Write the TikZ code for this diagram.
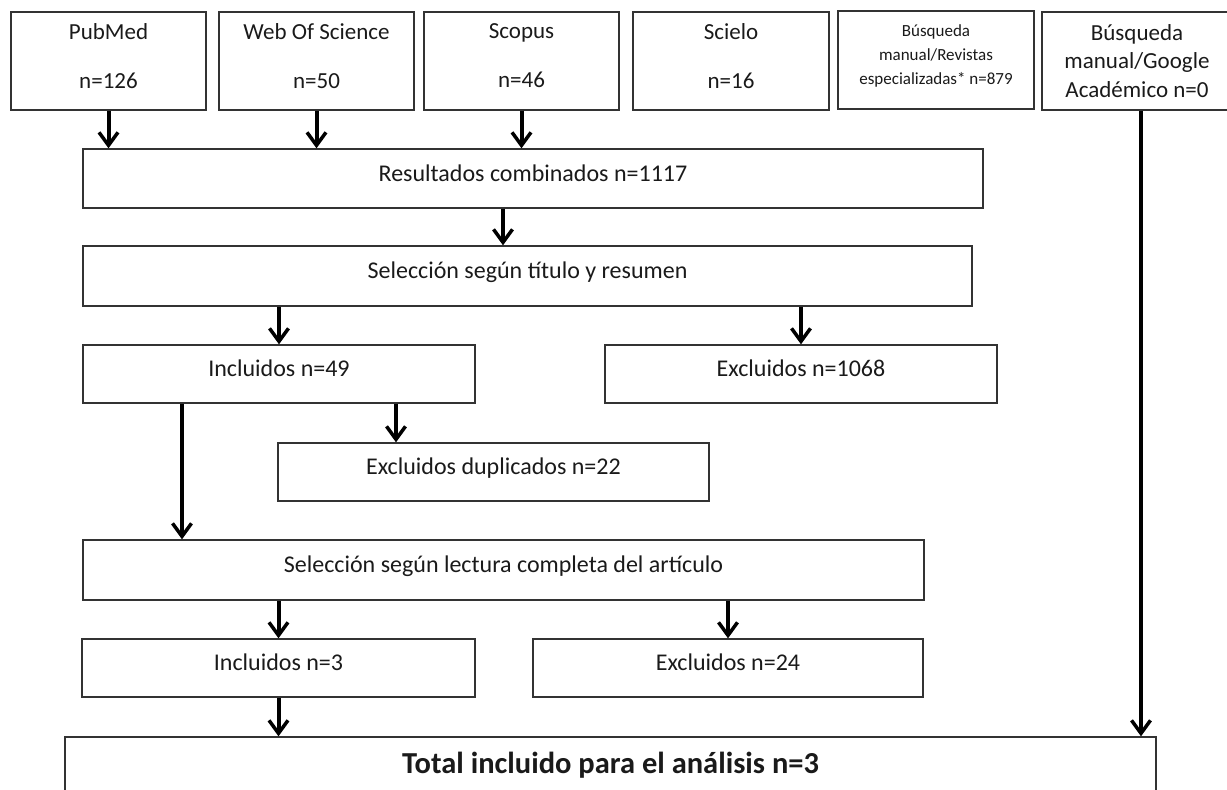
\documentclass[tikz,border=0pt]{standalone}
\usepackage{fontspec}
\setmainfont{Carlito}
\usetikzlibrary{arrows.meta}
\definecolor{boxc}{HTML}{333333}
\definecolor{txtc}{HTML}{1A1A1A}
\newcommand\lowpad[1]{\rule[-#1]{0pt}{#1}}
\begin{document}
\begin{tikzpicture}[x=1pt,y=-1pt,
  box/.style={draw=boxc, line width=1.4pt, inner sep=0pt, align=center,
    font=\fontsize{23}{28}\selectfont, text=txtc},
  onel/.style={text height=16pt, text depth=11pt, font=\fontsize{24}{28}\selectfont},
  arr/.style={line width=4pt, draw=black,
    -{Straight Barb[length=13pt,width=19pt,line width=3.5pt]}}]
\useasboundingbox (0,0) rectangle (1227,790);
\clip (0,0) rectangle (1227,790);
% top sources
\node[box, minimum width=195pt, minimum height=98pt] (pub) at (108.5,61) {PubMed\\[21pt]n=126\lowpad{10pt}};
\node[box, minimum width=195pt, minimum height=98pt] (wos) at (316.5,61) {Web Of Science\\[21pt]n=50\lowpad{10pt}};
\node[box, minimum width=195pt, minimum height=98pt] (sco) at (521.5,61) {Scopus\\[21pt]n=46\lowpad{10pt}};
\node[box, minimum width=196pt, minimum height=98pt] (sci) at (731,61) {Scielo\\[21pt]n=16\lowpad{10pt}};
\node[box, minimum width=196pt, minimum height=98pt, font=\fontsize{17}{24}\selectfont] (rev) at (936,60) {Búsqueda\\manual/Revistas\\especializadas* n=879\lowpad{11pt}};
\node[box, minimum width=190pt, minimum height=98pt, font=\fontsize{23}{28.5}\selectfont] (goo) at (1137,61) {Búsqueda\\manual/Google\\Académico n=0};
% main flow
\node[box, onel, minimum width=900pt, minimum height=59pt] (res) at (533,178.5) {Resultados combinados n=1117};
\node[box, onel, minimum width=889pt, minimum height=60pt] (sel1) at (527.5,276) {Selección según título y resumen};
\node[box, onel, minimum width=392pt, minimum height=58pt] (inc1) at (279,374) {Incluidos n=49};
\node[box, onel, minimum width=392pt, minimum height=58pt] (exc1) at (801,374) {Excluidos n=1068};
\node[box, onel, minimum width=431pt, minimum height=58pt] (dup) at (493.5,472) {Excluidos duplicados n=22};
\node[box, onel, minimum width=841pt, minimum height=60pt] (sel2) at (503.5,570) {Selección según lectura completa del artículo};
\node[box, onel, minimum width=393pt, minimum height=58pt] (inc2) at (278.5,668) {Incluidos n=3};
\node[box, onel, minimum width=390pt, minimum height=58pt] (exc2) at (728,668) {Excluidos n=24};
\node[box, minimum width=1091pt, minimum height=63pt, text height=20pt, text depth=11pt,
  font=\bfseries\fontsize{30.5}{35}\selectfont] (tot) at (610.5,768.5) {Total incluido para el análisis n=3};
% connectors
\draw[arr] (pub.south) -- (pub.south |- res.north);
\draw[arr] (wos.south) -- (wos.south |- res.north);
\draw[arr] (sco.south) -- (sco.south |- res.north);
\draw[arr] ([xshift=-30pt]res.south) -- ([xshift=-30pt]res.south |- sel1.north);
\draw[arr] (inc1.north |- sel1.south) -- (inc1.north);
\draw[arr] (exc1.north |- sel1.south) -- (exc1.north);
\draw[arr] ([xshift=117pt]inc1.south) -- ([xshift=117pt]inc1.south |- dup.north);
\draw[arr] ([xshift=-97pt]inc1.south) -- ([xshift=-97pt]inc1.south |- sel2.north);
\draw[arr] (inc2.north |- sel2.south) -- (inc2.north);
\draw[arr] (exc2.north |- sel2.south) -- (exc2.north);
\draw[arr] (inc2.south) -- (inc2.south |- tot.north);
\draw[arr] ([xshift=4pt]goo.south) -- ([xshift=4pt]goo.south |- tot.north);
\end{tikzpicture}
\end{document}
